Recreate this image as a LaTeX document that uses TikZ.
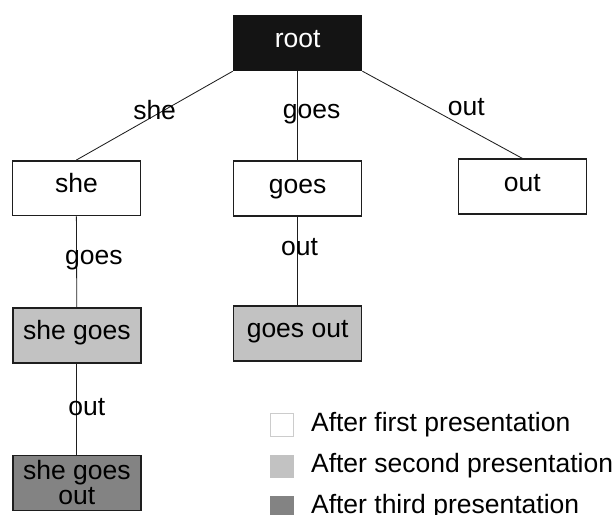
\documentclass[tikz,border=0pt]{standalone}
\usepackage{fontspec}
\setmainfont{Liberation Sans}
\definecolor{rootfill}{HTML}{141414}
\definecolor{boxline}{HTML}{1E1E1E}
\definecolor{secondfill}{HTML}{C2C2C2}
\definecolor{thirdfill}{HTML}{838383}
\definecolor{keyline}{HTML}{CCCCCC}

\begin{document}
\begin{tikzpicture}[font=\fontsize{18.85}{17.8}\selectfont,
        box/.style={draw=boxline, line width=1.1pt, minimum width=3.2cm, minimum height=1.37cm,
            inner sep=0pt, text height=0.82em, text depth=0.18em},
        edge/.style={draw=boxline, line width=0.6pt},
        key/.style={minimum size=0.565cm, inner sep=0pt, line width=0.4pt}]
        \useasboundingbox (0, 0) rectangle (15.4, 12.875);

        \node[box, fill=rootfill, draw=rootfill, text=white] (root) at (7.44, 11.8) {root};

        \node[box, fill=white] (she) at (1.91, 8.17) {she};
        \node[box, fill=white] (goes) at (7.44, 8.16) {goes};
        \node[box, fill=white] (out) at (13.06, 8.21) {out};

        \node[box, fill=secondfill] (shegoes) at (1.92, 4.49) {she goes};
        \node[box, fill=secondfill] (goesout) at (7.44, 4.54) {goes out};

        \node[box, fill=thirdfill, text height={}, text depth={}, align=center] (shegoesout) at (1.92, 0.8) {she goes\\out};

        \draw[edge] (root.south west) -- node[midway, yshift=0.14cm] {she} (she.north);
        \draw[edge] (root.south) -- node[midway, xshift=0.35cm, yshift=0.05cm] {goes} (goes.north);
        \draw[edge] (root.south east) -- node[midway, xshift=0.6cm, yshift=0.2cm] {out} (out.north);

        \draw[edge] (she.south) -- node[midway, xshift=0.43cm, yshift=0.05cm] {goes} (shegoes.north);
        \draw[edge] (goes.south) -- node[midway, xshift=0.05cm, yshift=0.36cm] {out} (goesout.north);
        \draw[edge] (shegoes.south) -- node[midway, xshift=0.25cm, yshift=0.06cm] {out} (shegoesout.north);

        \node[key, fill=white, draw=keyline] (key1) at (7.05, 2.26) {};
        \node[key, fill=secondfill, draw=secondfill] (key2) at (7.05, 1.22) {};
        \node[key, fill=thirdfill, draw=thirdfill] (key3) at (7.05, 0.18) {};

        \node[anchor=west, inner sep=0pt] (first) at (7.77, 2.26) {After first presentation};
        \node[anchor=west, inner sep=0pt] (second) at (7.77, 1.225) {After second presentation};
        \node[anchor=west, inner sep=0pt] (third) at (7.77, 0.2) {After third presentation};

        \end{tikzpicture}
\end{document}
